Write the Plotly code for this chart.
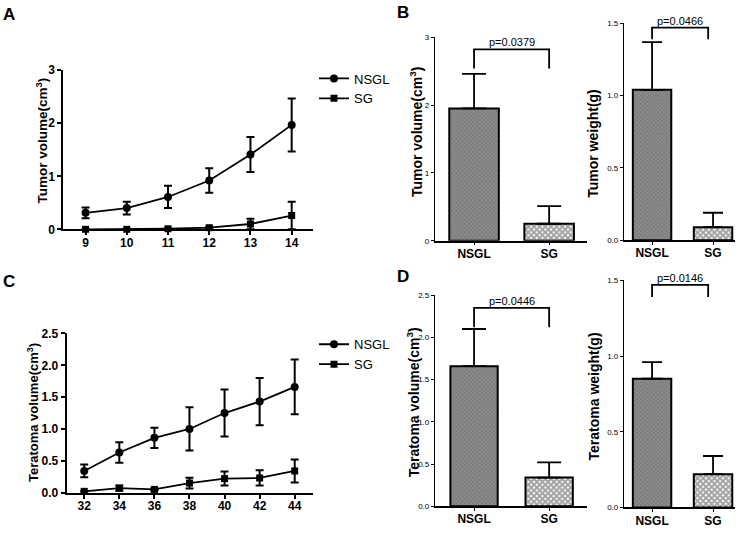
import plotly.graph_objects as go

W, H = 746, 533
FONT = "Liberation Sans, Arial, sans-serif"

# ---------------- data ----------------
days_a = [9, 10, 11, 12, 13, 14]
a_nsgl = [0.31, 0.40, 0.61, 0.92, 1.41, 1.97]
a_nsgl_err = [0.10, 0.12, 0.21, 0.23, 0.33, 0.50]
a_sg = [0.0, 0.0, 0.01, 0.03, 0.10, 0.26]
a_sg_err = [0.0, 0.0, 0.01, 0.02, 0.10, 0.26]

days_c = [32, 34, 36, 38, 40, 42, 44]
c_nsgl = [0.34, 0.63, 0.86, 1.00, 1.25, 1.43, 1.66]
c_nsgl_err = [0.10, 0.16, 0.16, 0.34, 0.37, 0.37, 0.43]
c_sg = [0.02, 0.07, 0.05, 0.15, 0.22, 0.23, 0.34]
c_sg_err = [0.01, 0.04, 0.02, 0.085, 0.11, 0.12, 0.18]

groups = ["NSGL", "SG"]
b_vol = [1.95, 0.25]
b_vol_err = [0.51, 0.26]
b_wt = [1.04, 0.09]
b_wt_err = [0.33, 0.10]
d_vol = [1.66, 0.34]
d_vol_err = [0.44, 0.18]
d_wt = [0.85, 0.22]
d_wt_err = [0.11, 0.12]

p_texts = ["p=0.0379", "p=0.0466", "p=0.0446", "p=0.0146"]
bracket_top = [2.82, 1.47, 2.35, 1.47]
bracket_leg = [2.54, 1.39, 2.12, 1.39]
bracket_x = [[0, 1], [0, 0.92], [0, 1], [0, 0.92]]


def px_x(p):
    return p / W


def px_y(p):
    return 1 - p / H


fig = go.Figure()

# ---------------- line charts ----------------
def add_line(x, y, err, name, symbol, size, xa, ya, legend):
    fig.add_trace(go.Scatter(
        x=x, y=y, name=name, mode="lines+markers",
        line=dict(color="black", width=1.8),
        marker=dict(symbol=symbol, size=size, color="black"),
        error_y=dict(type="data", array=err, visible=True, color="black",
                     thickness=2, width=4),
        xaxis=xa, yaxis=ya, legend=legend, cliponaxis=False,
    ))


add_line(days_a, a_nsgl, a_nsgl_err, "NSGL", "circle", 8, "x", "y", "legend")
add_line(days_a, a_sg, a_sg_err, "SG", "square", 7, "x", "y", "legend")
add_line(days_c, c_nsgl, c_nsgl_err, "NSGL", "circle", 8, "x2", "y2", "legend2")
add_line(days_c, c_sg, c_sg_err, "SG", "square", 7, "x2", "y2", "legend2")

# ---------------- bar charts ----------------
def add_bars(vals, errs, xa, ya, width, cap):
    fig.add_trace(go.Bar(
        x=groups, y=vals, width=width, showlegend=False,
        marker=dict(color=["#8c8c8c", "#ffffff"],
                    pattern=dict(shape=["x", "x"], fgcolor=["#6a6a6a", "#000000"],
                                 bgcolor=["#a0a0a0", "#ffffff"], size=[3, 4],
                                 solidity=[0.3, 0.72]),
                    line=dict(color="black", width=2)),
        error_y=dict(type="data", symmetric=False, array=errs,
                     arrayminus=[0, 0], visible=True, color="black",
                     thickness=1.8, width=cap),
        xaxis=xa, yaxis=ya,
    ))


add_bars(b_vol, b_vol_err, "x3", "y3", 0.66, 12)
add_bars(b_wt, b_wt_err, "x4", "y4", 0.63, 10)
add_bars(d_vol, d_vol_err, "x5", "y5", 0.63, 12)
add_bars(d_wt, d_wt_err, "x6", "y6", 0.63, 10)

# ---------------- axes ----------------
line_axis_common = dict(showgrid=False, zeroline=False, showline=True,
                        linecolor="black", linewidth=2, ticks="outside",
                        ticklen=4, tickwidth=2, tickcolor="black",
                        tickfont=dict(family=FONT, size=12, color="black", weight="bold"))

layout = dict(
    width=W, height=H, margin=dict(l=0, r=0, t=0, b=0),
    paper_bgcolor="white", plot_bgcolor="white",
    bargap=0.3,
    font=dict(family=FONT, color="black"),
)

layout["xaxis"] = dict(domain=[px_x(63.3), px_x(312.7)], range=[8.46, 14.51],
                       tickvals=days_a, anchor="y", ticklabelstandoff=-3,
                       **line_axis_common)
layout["yaxis"] = dict(domain=[px_y(228.3), px_y(65)], range=[0, 3],
                       tickvals=[0, 1, 2, 3], anchor="x", **line_axis_common)
layout["xaxis2"] = dict(domain=[px_x(66.7), px_x(313.3)], range=[31.0, 45.06],
                        tickvals=days_c, anchor="y2", ticklabelstandoff=-3,
                        **line_axis_common)
layout["yaxis2"] = dict(domain=[px_y(498.7), px_y(335.3)], range=[0, 2.5],
                        tickvals=[0, 0.5, 1, 1.5, 2, 2.5], tickformat=".1f",
                        anchor="x2", **line_axis_common)

bar_x_common = dict(showgrid=False, zeroline=False, showline=True,
                    linecolor="black", linewidth=1.5, ticks="outside",
                    ticklen=3, tickwidth=1, tickcolor="black",
                    tickfont=dict(family=FONT, size=12, color="black", weight="bold"))
bar_y_common = dict(showgrid=False, zeroline=False, showline=True,
                    linecolor="black", linewidth=1.2, ticks="outside",
                    ticklen=3, tickwidth=1, tickcolor="black",
                    tickfont=dict(family=FONT, size=8, color="black"))

bar_axes = [
    ("3", [435, 586.7], [-0.52, 1.5], [240, 31], [0, 3], [0, 1, 2, 3], ""),
    ("4", [624, 735], [-0.46, 1.36], [239.5, 16.7], [0, 1.5], [0, 0.5, 1.0, 1.5], ".1f"),
    ("5", [435, 586.7], [-0.52, 1.5], [512.7, 296], [0, 2.5], [0, 0.5, 1, 1.5, 2, 2.5], ".1f"),
    ("6", [624, 735], [-0.46, 1.36], [514, 280.7], [0, 1.5], [0, 0.5, 1.0, 1.5], ".1f"),
]
for n, xd, xr, yd, yr, tv, tf in bar_axes:
    layout["xaxis" + n] = dict(domain=[px_x(xd[0]), px_x(xd[1])], range=xr,
                               anchor="y" + n, type="category",
                               ticklabelstandoff=-2, **bar_x_common)
    yax = dict(domain=[px_y(yd[0]), px_y(yd[1])], range=yr, tickvals=tv,
               anchor="x" + n, **bar_y_common)
    if tf:
        yax["tickformat"] = tf
    layout["yaxis" + n] = yax

layout["legend"] = dict(x=px_x(314), y=px_y(58), xanchor="left", yanchor="top",
                        font=dict(family=FONT, size=13, color="black"),
                        bgcolor="rgba(0,0,0,0)", tracegroupgap=0)
layout["legend2"] = dict(x=px_x(314), y=px_y(331), xanchor="left", yanchor="top",
                         font=dict(family=FONT, size=13, color="black"),
                         bgcolor="rgba(0,0,0,0)", tracegroupgap=0)

fig.update_layout(**layout)

# ---------------- brackets & p-values ----------------
shapes = []
annotations = []
for i, n in enumerate(["3", "4", "5", "6"]):
    x0, x1 = bracket_x[i]
    yt, yl = bracket_top[i], bracket_leg[i]
    shapes.append(dict(type="path", xref="x" + n, yref="y" + n,
                       path=f"M {x0},{yl} L {x0},{yt} L {x1},{yt} L {x1},{yl}",
                       line=dict(color="black", width=1.8)))
    annotations.append(dict(x=(x0 + x1) / 2, y=yt, xref="x" + n, yref="y" + n,
                            text=p_texts[i], showarrow=False, yanchor="bottom",
                            yshift=-1,
                            font=dict(family=FONT, size=11, color="black")))

# ---------------- titles ----------------
ytitles = [
    ("Tumor volume(cm<sup>3</sup>)", 42, 137, 13.5),
    ("Teratoma volume(cm<sup>3</sup>)", 33, 417, 13),
    ("Tumor volume(cm<sup>3</sup>)", 415.5, 129, 14),
    ("Tumor weight(g)", 593.5, 140, 14),
    ("Teratoma volume(cm<sup>3</sup>)", 413, 406, 14),
    ("Teratoma weight(g)", 594, 400, 14),
]
for t, x, y, s in ytitles:
    annotations.append(dict(x=px_x(x), y=px_y(y), xref="paper", yref="paper",
                            text=t, textangle=-90, showarrow=False,
                            xanchor="center", yanchor="middle",
                            font=dict(family=FONT, size=s, color="black", weight="bold")))

letters = [("A", 9.3, 8), ("B", 402.5, 6), ("C", 9.2, 282), ("D", 403, 277)]
for t, x, y in letters:
    annotations.append(dict(x=px_x(x), y=px_y(y), xref="paper", yref="paper",
                            text=t, showarrow=False, xanchor="center", yanchor="middle",
                            font=dict(family=FONT, size=17, color="black", weight="bold")))

fig.update_layout(shapes=shapes, annotations=annotations)

fig.write_html("out.html", config={"displayModeBar": False},
               post_script="document.body.style.margin='0px';document.body.style.padding='0px';")
